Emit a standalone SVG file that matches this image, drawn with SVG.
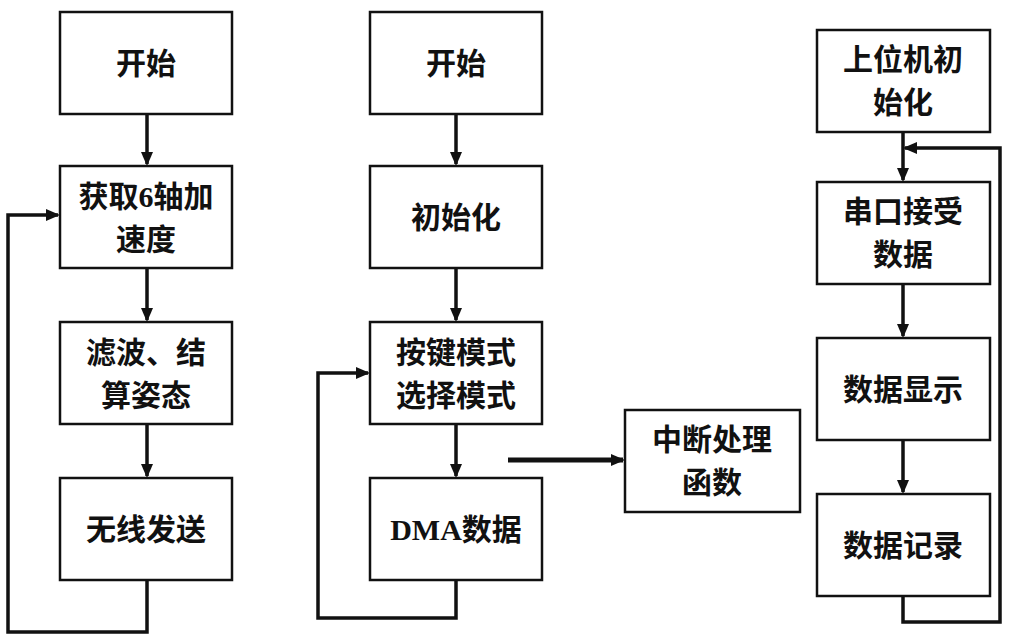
<svg xmlns="http://www.w3.org/2000/svg" width="1024" height="642" viewBox="0 0 1024 642">
<style>
.b{fill:#fff;stroke:#111;stroke-width:2.5}
.t{font-family:"Liberation Serif","Noto Sans CJK SC",serif;font-weight:bold;font-size:30px;fill:#111;text-anchor:middle}
.c{fill:none;stroke:#111;stroke-width:3.5}
</style>
<defs><marker id="a" markerWidth="14" markerHeight="14" refX="12" refY="7" orient="auto" markerUnits="userSpaceOnUse" viewBox="0 0 14 14"><path d="M0,1L14,7L0,13z" fill="#111"/></marker></defs>
<rect width="1024" height="642" fill="#fff"/>
<g id="connectors">
<path class="c" d="M147,114V164" marker-end="url(#a)"/>
<path class="c" d="M147,268V320" marker-end="url(#a)"/>
<path class="c" d="M147,424V476" marker-end="url(#a)"/>
<path class="c" d="M147,580V632H8V215H58" marker-end="url(#a)"/>
<path class="c" d="M456,114V164" marker-end="url(#a)"/>
<path class="c" d="M456,268V320" marker-end="url(#a)"/>
<path class="c" d="M456,424V476" marker-end="url(#a)"/>
<path class="c" d="M456,580V618H318V373H368" marker-end="url(#a)"/>
<path class="c" d="M508,460H623" style="stroke-width:5" marker-end="url(#a)"/>
<path class="c" d="M903,132V180" marker-end="url(#a)"/>
<path class="c" d="M903,284V336" marker-end="url(#a)"/>
<path class="c" d="M903,440V492" marker-end="url(#a)"/>
<path class="c" d="M903,596V622H1000V148H905" marker-end="url(#a)"/>
</g>
<g id="n1"><rect class="b" x="60" y="12" width="172" height="102"/><text class="t" x="146" y="74">开始</text></g>
<g id="n2"><rect class="b" x="60" y="166" width="172" height="102"/><text class="t" x="146" y="207">获取6轴加</text><text class="t" x="146" y="250">速度</text></g>
<g id="n3"><rect class="b" x="60" y="322" width="172" height="102"/><text class="t" x="146" y="363">滤波、结</text><text class="t" x="146" y="406">算姿态</text></g>
<g id="n4"><rect class="b" x="60" y="478" width="172" height="102"/><text class="t" x="146" y="540">无线发送</text></g>
<g id="m1"><rect class="b" x="370" y="12" width="172" height="102"/><text class="t" x="456" y="74">开始</text></g>
<g id="m2"><rect class="b" x="370" y="166" width="172" height="102"/><text class="t" x="456" y="228">初始化</text></g>
<g id="m3"><rect class="b" x="370" y="322" width="172" height="102"/><text class="t" x="456" y="363">按键模式</text><text class="t" x="456" y="406">选择模式</text></g>
<g id="m4"><rect class="b" x="370" y="478" width="172" height="102"/><text class="t" x="456" y="540">DMA数据</text></g>
<g id="int"><rect class="b" x="625" y="410" width="175" height="102"/><text class="t" x="712" y="450">中断处理</text><text class="t" x="712" y="493">函数</text></g>
<g id="p1"><rect class="b" x="817" y="30" width="173" height="102"/><text class="t" x="903" y="70">上位机初</text><text class="t" x="903" y="113">始化</text></g>
<g id="p2"><rect class="b" x="817" y="182" width="173" height="102"/><text class="t" x="903" y="222">串口接受</text><text class="t" x="903" y="265">数据</text></g>
<g id="p3"><rect class="b" x="817" y="338" width="173" height="102"/><text class="t" x="903" y="400">数据显示</text></g>
<g id="p4"><rect class="b" x="817" y="494" width="173" height="102"/><text class="t" x="903" y="556">数据记录</text></g>
</svg>
